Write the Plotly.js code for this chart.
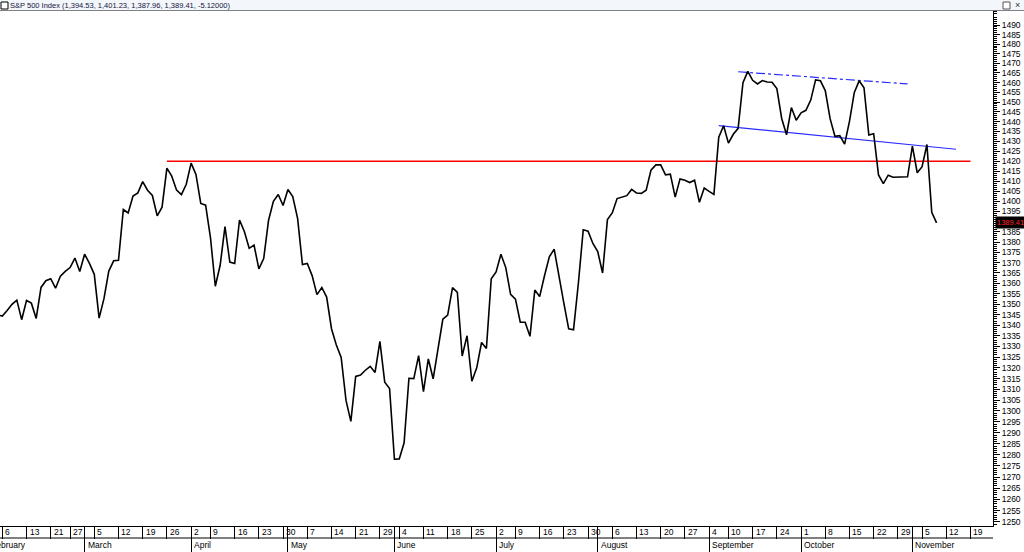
<!DOCTYPE html>
<html><head><meta charset="utf-8">
<script src="https://cdn.plot.ly/plotly-3.0.1.min.js"></script>
<style>html,body{margin:0;padding:0;background:#fff;overflow:hidden}#chart{width:1024px;height:552px}</style>
</head><body><div id="chart"></div>
<script>
// ---------- DATA ----------
const firstCloseDate = "2012-02-03";
const closes = [
 1344.90,1344.33,1347.05,1349.96,1351.95,1342.64,1351.77,1350.50,1343.23,1358.04,1361.23,1362.21,1357.66,1363.46,1365.74,1367.59,1372.18,1365.68,
 1374.09,1369.63,1364.33,1343.36,1352.63,1365.91,1370.87,1371.09,1395.95,1394.28,1402.60,1404.17,1409.75,1405.52,1402.89,1392.78,1397.11,1416.51,1412.52,1405.54,1403.28,1408.47,
 1419.04,1413.38,1398.96,1398.08,1382.20,1358.59,1368.71,1387.57,1370.26,1369.57,1390.78,1385.14,1376.92,1378.53,1366.94,1371.97,1390.69,1399.98,1403.36,1397.91,
 1405.82,1402.31,1391.57,1369.10,1369.58,1363.72,1354.58,1357.99,1353.39,1338.35,1330.66,1324.80,1304.86,1295.22,1315.99,1316.63,1318.86,1320.68,1317.82,1332.42,1313.32,1310.33,
 1278.04,1278.18,1285.50,1315.13,1314.99,1325.66,1308.93,1324.18,1314.88,1329.10,1342.84,1344.78,1357.98,1355.69,1325.51,1335.02,1313.72,1319.99,1331.85,1329.04,1362.16,
 1365.51,1374.02,1367.58,1354.68,1352.46,1341.47,1341.45,1334.76,1356.78,1353.64,1363.67,1372.78,1376.51,1362.66,1350.52,1338.31,1337.89,1360.02,1385.97,1385.30,1379.32,
 1375.32,1365.00,1390.99,1394.23,1401.35,1402.22,1402.80,1405.87,1404.11,1403.93,1405.53,1415.51,1418.16,1418.13,1413.17,1413.49,1402.08,1411.13,1410.44,1409.30,1410.49,1399.48,1406.58,
 1404.94,1403.44,1432.12,1437.92,1429.08,1433.56,1436.56,1459.99,1465.77,1461.19,1459.32,1461.05,1460.26,1460.15,1456.89,1441.59,1433.32,1447.15,1440.67,
 1444.49,1445.75,1450.99,1461.40,1460.93,1455.88,1441.48,1432.56,1432.84,1428.59,1440.13,1454.92,1460.91,1457.34,1433.19,1433.82,1413.11,1408.75,1412.97,1411.94,1411.94,1411.94,1412.16,
 1427.59,1414.20,1417.26,1428.39,1394.53,1389.41
];
const weekTickDates = ["2012-02-06","2012-02-13","2012-02-21","2012-02-27","2012-03-05","2012-03-12","2012-03-19","2012-03-26",
 "2012-04-02","2012-04-09","2012-04-16","2012-04-23","2012-04-30","2012-05-07","2012-05-14","2012-05-21","2012-05-29",
 "2012-06-04","2012-06-11","2012-06-18","2012-06-25","2012-07-02","2012-07-09","2012-07-16","2012-07-23","2012-07-30",
 "2012-08-06","2012-08-13","2012-08-20","2012-08-27","2012-09-04","2012-09-10","2012-09-17","2012-09-24",
 "2012-10-01","2012-10-08","2012-10-15","2012-10-22","2012-10-29","2012-11-05","2012-11-12","2012-11-19"];
const weekTickLabels = ["6","13","21","27","5","12","19","26","2","9","16","23","30","7","14","21","29","4","11","18","25",
 "2","9","16","23","30","6","13","20","27","4","10","17","24","1","8","15","22","29","5","12","19"];
const monthStartDates = ["2012-02-01","2012-03-01","2012-04-02","2012-05-01","2012-06-01","2012-07-02","2012-08-01","2012-09-04","2012-10-01","2012-11-01"];
const monthLabels = ["February","March","April","May","June","July","August","September","October","November"];
const holidays = ["2012-02-20","2012-04-06","2012-05-28","2012-07-04","2012-09-03","2012-11-22"];
const resistance = {dates:["2012-03-26","2012-11-19"], values:[1420,1420]};
const lowerTrend = {dates:["2012-09-06","2012-11-14"], values:[1438,1426]};
const upperTrend = {dates:["2012-09-12","2012-10-31"], values:[1465.6,1459.3]};
const yTickValues = []; for(let v=1250; v<=1490; v+=5) yTickValues.push(v);
const yMinorValues = []; for(let v=1248; v<=1497; v++) if(v%5) yMinorValues.push(v);
const lastClose = closes[closes.length-1];
const titleText = "S&P 500 Index (1,394.53, 1,401.23, 1,387.96, 1,389.41, -5.12000)";

// ---------- trading-day index ----------
const days = [];
(function(){
  let d = new Date(Date.UTC(2012,1,1));
  const end = new Date(Date.UTC(2012,10,30));
  while(d <= end){
    const wd = d.getUTCDay();
    const s = d.toISOString().slice(0,10);
    if(wd!==0 && wd!==6 && holidays.indexOf(s)<0) days.push(s);
    d = new Date(d.getTime()+86400000);
  }
})();
const idx = s => days.indexOf(s);
const x0 = idx(firstCloseDate);
const xs = closes.map((_,k)=>x0+k);

const W=1024,H=552, L=0, R=31, T=11, B=26;
const plotW = W-L-R, plotH = H-T-B;
const xRange = [2.524, 207.65];
const pxPerIdx = plotW/(xRange[1]-xRange[0]);
const yRange = [3.09629, 3.17534];

const FONT = "Liberation Sans, Arial, sans-serif";
const traces = [
  {x: resistance.dates.map(idx), y: resistance.values, mode:'lines', line:{color:'#ff0000', width:1.6}, hoverinfo:'skip'},
  {x: lowerTrend.dates.map(idx), y: lowerTrend.values, mode:'lines', line:{color:'#2b2bff', width:1.2}, hoverinfo:'skip'},
  {x: upperTrend.dates.map(idx), y: upperTrend.values, mode:'lines', line:{color:'#2b2bff', width:1.2, dash:'dashdot'}, hoverinfo:'skip'},
  {x: xs, y: closes, mode:'lines', line:{color:'#000', width:1.6}, hoverinfo:'skip'}
];
// empty carrier trace so the overlaid month-separator axis is drawn
traces.push({x:[], y:[], xaxis:'x2', yaxis:'y', mode:'lines', hoverinfo:'skip'});

const weekIdx = weekTickDates.map(idx);
const baseAx = {range:xRange, autorange:false, showgrid:false, zeroline:false, fixedrange:true, anchor:'y'};
const labelFont = {family:FONT, size:8.5, color:'#000'};
const annotations = [];
// day-of-week tick labels (left-aligned just right of each tick line)
weekIdx.forEach((v,i)=>annotations.push({xref:'x', yref:'paper', x:v, y:-6/plotH, xanchor:'left', yanchor:'middle', xshift:1,
  text:weekTickLabels[i], showarrow:false, font:labelFont}));
// month labels
monthStartDates.forEach((d,i)=>{
  const m = idx(d);
  const inside = m >= xRange[0];
  annotations.push({xref:'x', yref:'paper', x: inside? m : xRange[0], y: -19/plotH, xanchor:'left', yanchor:'middle',
    xshift: inside? 1 : (m-xRange[0])*pxPerIdx+1, text: monthLabels[i], showarrow:false, font:labelFont});
});
annotations.push({xref:'paper', yref:'y', x:1, y:Math.log10(lastClose), xanchor:'left', yanchor:'middle', xshift:2,
  text:lastClose.toFixed(2), showarrow:false, bgcolor:'#000', borderpad:1, font:{family:FONT, size:7.5, color:'#ff2020'}});
annotations.push({xref:'paper', yref:'paper', x:1, y:1+5.5/plotH, xanchor:'left', yanchor:'middle', xshift:20,
  text:'×', showarrow:false, font:{family:FONT, size:9, color:'#333'}});

const layout = {
  width:W, height:H, margin:{l:L,r:R,t:T,b:B,pad:0},
  paper_bgcolor:'#fff', plot_bgcolor:'#fff', showlegend:false,
  title:{text:titleText, font:{family:FONT, size:7.5, color:'#14143c'}, xref:'container', yref:'container',
    x:10/W, xanchor:'left', y:1-5/H, yanchor:'middle', pad:{t:0,b:0,l:0,r:0}},
  xaxis: Object.assign({}, baseAx, {tickmode:'array', tickvals:weekIdx, ticks:'outside', ticklen:12, tickcolor:'#000', tickwidth:1,
    showticklabels:false, showline:true, linecolor:'#000', linewidth:1}),
  xaxis2: Object.assign({}, baseAx, {overlaying:'x', side:'bottom', tickmode:'array', tickvals:monthStartDates.map(idx), ticks:'outside', ticklen:25,
    tickcolor:'#000', tickwidth:1, showticklabels:false, showline:false}),
  yaxis: {type:'log', range:yRange, autorange:false, side:'right', anchor:'x', showgrid:false, zeroline:false, fixedrange:true,
    tickmode:'array', tickvals:yTickValues, ticktext:yTickValues.map(v => Math.abs(v-lastClose)<4 ? '' : String(v)), ticks:'outside', ticklen:6, tickcolor:'#000',
    showline:true, linecolor:'#000', linewidth:1, tickfont:labelFont,
    minor:{tickmode:'array', tickvals:yMinorValues, ticks:'outside', ticklen:3, tickcolor:'#000', showgrid:false}},
  shapes:[
    {type:'rect', xref:'paper', yref:'paper', x0:0, x1:W/plotW, y0:1, y1:1+T/plotH, fillcolor:'#f3f6fa', line:{width:0}, layer:'below'},
    {type:'line', xref:'paper', yref:'paper', x0:0, x1:W/plotW, y0:1+0.5/plotH, y1:1+0.5/plotH, line:{color:'#808080', width:1}},
    {type:'rect', xref:'paper', yref:'paper', x0:1/plotW, x1:8/plotW, y0:1+2/plotH, y1:1+9/plotH, line:{color:'#000', width:1}, fillcolor:'#fff'},
    {type:'rect', xref:'paper', yref:'paper', x0:1003/plotW, x1:1010/plotW, y0:1+2/plotH, y1:1+9/plotH, line:{color:'#555', width:1}, fillcolor:'#fff'},
    {type:'line', xref:'paper', yref:'paper', x0:0, x1:1, y0:-12/plotH, y1:-12/plotH, line:{color:'#000', width:1}}
  ],
  annotations: annotations
};
Plotly.newPlot('chart', traces, layout, {staticPlot:true, displayModeBar:false});
</script></body></html>
